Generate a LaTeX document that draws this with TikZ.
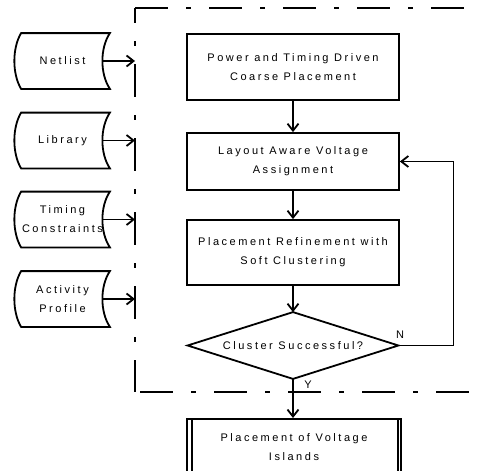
\documentclass[tikz,border=0pt]{standalone}
\usepackage{fontspec}
\setmainfont{Liberation Sans}[LetterSpace=23]
\usetikzlibrary{arrows.meta,calc}
\begin{document}
\begin{tikzpicture}[x=1pt,y=-1pt,line width=1.8pt,
  every node/.style={font=\fontsize{11}{19}\selectfont},
  proc/.style={draw,rectangle,minimum width=212pt,align=center,inner sep=0pt},
  docbox/.style={minimum width=93pt,minimum height=54pt,align=center,inner sep=0pt},
  arr/.style={-{Straight Barb[length=7pt,width=11pt]}},
  framel/.style={dash pattern=on 33pt off 18pt on 5pt off 18pt}]
\useasboundingbox (0,0) rectangle (477,471);

% dash-dot frame
\draw[framel] (135,8) -- (485,8);
\draw[framel,dash phase=18] (135,8) -- (135,392);
\draw[framel] (140,392) -- (485,392);

% input documents
\node[docbox] (net) at (62.5,61) {Netlist};
\node[docbox] (lib) at (62.5,140.5) {Library};
\node[docbox] (tim) at (62.5,219.5) {Timing\\Constraints};
\node[docbox] (act) at (62.5,299) {Activity\\Profile};
\foreach \n in {net,lib,tim,act}{
  \draw ([xshift=6pt]\n.north west) -- (\n.north east)
    .. controls ([xshift=-10pt,yshift=-15pt]\n.north east) and ([xshift=-10pt,yshift=15pt]\n.south east) .. (\n.south east)
    -- ([xshift=6pt]\n.south west)
    .. controls ([xshift=-3pt,yshift=15pt]\n.south west) and ([xshift=-3pt,yshift=-15pt]\n.north west) .. cycle;
  \coordinate (\n-out) at ([xshift=-7pt]\n.east);
  \coordinate (\n-in) at (135,0 |- \n.east);
  \draw[arr] (\n-out) -- (\n-in);
}

% main flow
\node[proc,minimum height=66pt] (b1) at (293,67) {Power and Timing Driven\\Coarse Placement};
\node[proc,minimum height=57pt] (b2) at (293,161.5) {Layout Aware Voltage\\Assignment};
\node[proc,minimum height=65pt] (b3) at (293,252.5) {Placement Refinement with\\Soft Clustering};
\node[minimum width=209pt,minimum height=65pt,inner sep=0pt] (d) at (293,345.5) {Cluster Successful?};
\draw (d.north) -- (d.east) -- (d.south) -- (d.west) -- cycle;
\node[proc,minimum width=214pt,minimum height=70pt,anchor=north] (b4) at (294,418) {};
\node[align=center] (b4t) at (294,447) {Placement of Voltage\\Islands};
\draw ([xshift=6pt]b4.north west) -- ([xshift=6pt]b4.south west);
\draw ([xshift=-4pt]b4.north east) -- ([xshift=-4pt]b4.south east);

\draw[arr] (b1) -- (b2);
\draw[arr] (b2) -- (b3);
\draw[arr] (b3) -- (d);
\draw[arr] (d.south) -- (b4.north -| d.south);
\draw[arr] (d.east) -- ++(55,0) |- (b2.east);
\node[font=\fontsize{11}{13}\selectfont] (nl) at (400,335) {N};
\node[font=\fontsize{11}{13}\selectfont] (yl) at (308,385) {Y};
\end{tikzpicture}
\end{document}
